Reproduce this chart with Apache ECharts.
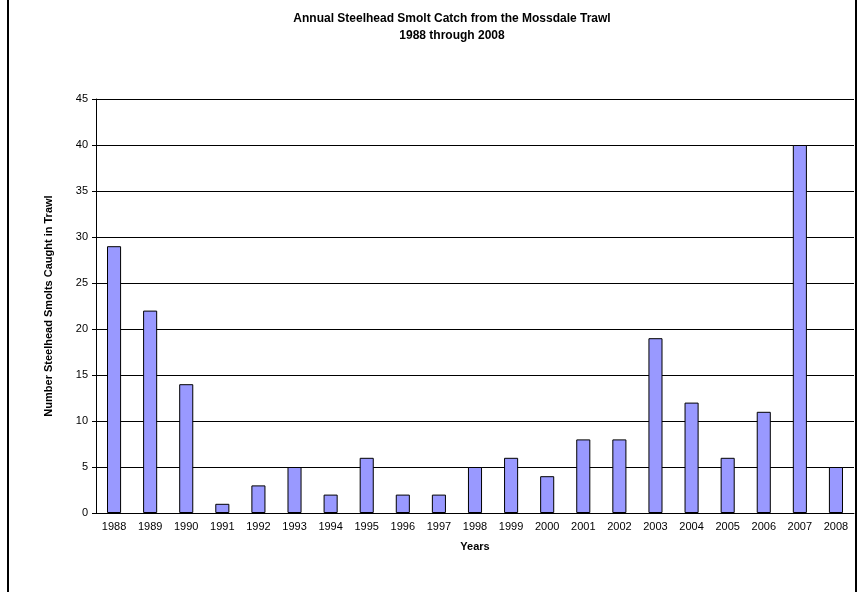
<!DOCTYPE html>
<html>
<head>
<meta charset="UTF-8">
<script src="https://cdn.jsdelivr.net/npm/echarts@6/dist/echarts.min.js"></script>
<style>
  html, body { margin: 0; padding: 0; background: #fff; }
  #frame { position: absolute; left: 7px; top: -2px; width: 850px; height: 600px; border: 2px solid #000; box-sizing: border-box; }
  #chart { width: 860px; height: 592px; }
</style>
</head>
<body>
<div id="frame"></div>
<div id="chart"></div>
<script>
const years = ['1988','1989','1990','1991','1992','1993','1994','1995','1996','1997','1998',
               '1999','2000','2001','2002','2003','2004','2005','2006','2007','2008'];
const catch_ = [29, 22, 14, 1, 3, 5, 2, 6, 2, 2, 5, 6, 4, 8, 8, 19, 12, 6, 11, 40, 5];

const chart = echarts.init(document.getElementById('chart'));
chart.setOption({
    animation: false,
    textStyle: { fontFamily: 'Liberation Sans, Arial, sans-serif' },
    title: {
        text: 'Annual Steelhead Smolt Catch from the Mossdale Trawl\n1988 through 2008',
        left: 447, top: 5, textAlign: 'center',
        textStyle: { fontSize: 12, fontWeight: 'bold', color: '#000', lineHeight: 17 }
    },
    grid: { left: 96, right: 6, top: 99, bottom: 79 },
    xAxis: {
        type: 'category', data: years,
        name: 'Years', nameLocation: 'middle', nameGap: 28,
        nameTextStyle: { fontSize: 11, fontWeight: 'bold', color: '#000' },
        axisLine: { lineStyle: { color: '#000' } },
        axisTick: { inside: false, length: 4, lineStyle: { color: '#000' } },
        axisLabel: { fontSize: 11, color: '#000', margin: 8, interval: 0 }
    },
    yAxis: {
        type: 'value', min: 0, max: 45, interval: 5,
        name: 'Number Steelhead Smolts Caught in Trawl', nameLocation: 'middle', nameGap: 42,
        nameTextStyle: { fontSize: 11, fontWeight: 'bold', color: '#000' },
        axisLine: { show: true, lineStyle: { color: '#000' } },
        axisTick: { show: true, length: 4, lineStyle: { color: '#000' } },
        axisLabel: { fontSize: 11, color: '#000', margin: 8 },
        splitLine: { lineStyle: { color: '#000', width: 1 } }
    },
    series: [{
        type: 'bar', data: catch_, barWidth: '39%',
        itemStyle: { color: '#9999FF', borderColor: '#000', borderWidth: 1 }
    }]
});
</script>
</body>
</html>
